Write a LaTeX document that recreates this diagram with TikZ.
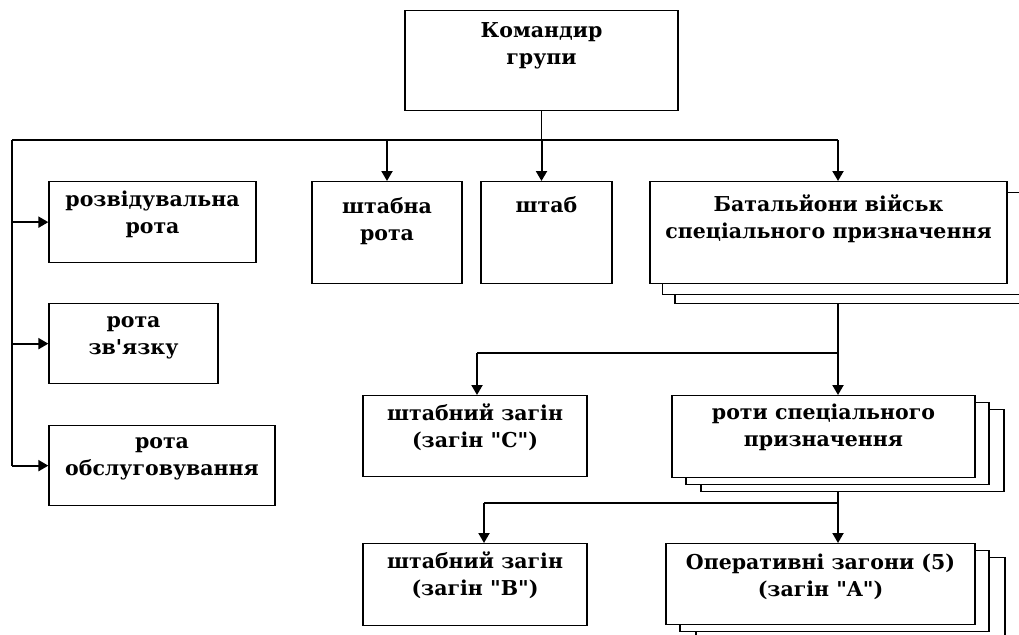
\documentclass[tikz,border=0pt]{standalone}
\usepackage{fontspec}
\setmainfont{DejaVu Serif}
\usepackage{tikz}
\usetikzlibrary{arrows.meta,shadows,backgrounds}

\begin{document}
\begin{tikzpicture}[x=1pt, y=-1pt,
  every node/.style={font=\fontsize{20.5}{27}\selectfont\bfseries},
  unit/.style={draw, line width=1.3pt, fill=white, align=center, anchor=north, inner xsep=2pt, inner ysep=0pt},
  stack/.style n args={4}{copy shadow={shadow xshift=#3, shadow yshift=-#4, draw, fill=white, line width=1.3pt},
    copy shadow={shadow xshift=#1, shadow yshift=-#2, draw, fill=white, line width=1.3pt}},
  bus/.style={line width=1.2pt},
  arr/.style={line width=2pt, -{Triangle[length=10pt,width=11pt]}}]
\useasboundingbox (0,0) rectangle (1019,634);
\node[unit, minimum width=273, text height=54, text depth=46] (cmd) at (541.5,10) {Командир\\групи};
\node[unit, minimum width=207, text height=52, text depth=29] (rozv) at (152.5,181) {розвідувальна\\рота};
\node[unit, minimum width=169, text height=51, text depth=29] (zvyaz) at (133.5,303) {рота\\зв\textquotesingle язку};
\node[unit, minimum width=226, text height=50, text depth=30] (obsl) at (162,425) {рота\\обслуговування};
\node[unit, minimum width=150, text height=59, text depth=43] (shtr) at (387,181) {штабна\\рота};
\node[unit, minimum width=131, text height=31, text depth=71] (shtab) at (546.5,181) {штаб};
\node[unit, stack={12.5pt}{11pt}{25pt}{20pt}, minimum width=357, text height=57, text depth=45] (bat) at (828.5,181) {Батальйони військ\\спеціального призначення};
\node[unit, minimum width=224, text height=52, text depth=29] (sC) at (475,395) {штабний загін\\(загін \textquotedbl C\textquotedbl)};
\node[unit, stack={14pt}{7pt}{29pt}{14pt}, minimum width=303, text height=51, text depth=31] (roty) at (823.5,395) {роти спеціального\\призначення};
\node[unit, minimum width=224, text height=52, text depth=30] (sB) at (475,543) {штабний загін\\(загін \textquotedbl B\textquotedbl)};
\node[unit, stack={14pt}{7pt}{30pt}{14pt}, minimum width=309, text height=53, text depth=28] (oper) at (820.5,543) {Оперативні загони (5)\\(загін \textquotedbl A\textquotedbl)};
\coordinate (busL) at (12,140);
\coordinate (busR) at (838,140);
\coordinate (bus2) at (838,353);
\coordinate (bus2L) at (477,353);
\coordinate (bus3) at (838,503);
\coordinate (bus3L) at (484,503);
\begin{scope}[on background layer]
\draw[bus] (cmd.south) -- (cmd.south |- busL);
\draw[bus] (busL) -- (busR);
\draw[bus] (busL) -- (busL |- obsl.west);
\draw[arr] (busL |- rozv.west) -- (rozv.west);
\draw[arr] (busL |- zvyaz.west) -- (zvyaz.west);
\draw[arr] (busL |- obsl.west) -- (obsl.west);
\draw[arr] (shtr.north |- busL) -- (shtr.north);
\draw[arr] (cmd.south |- busL) -- (cmd.south |- shtab.north);
\draw[arr] (busR) -- (busR |- bat.north);
\draw[line width=2pt] (bat.south -| bus2) -- (bus2);
\draw[bus] (bus2) -- (bus2L);
\draw[arr] (bus2L) -- (bus2L |- sC.north);
\draw[arr] (bus2) -- (bus2 |- roty.north);
\draw[line width=2pt] (roty.south -| bus3) -- (bus3);
\draw[bus] (bus3) -- (bus3L);
\draw[arr] (bus3L) -- (bus3L |- sB.north);
\draw[arr] (bus3) -- (bus3 |- oper.north);
\end{scope}
\end{tikzpicture}
\end{document}
